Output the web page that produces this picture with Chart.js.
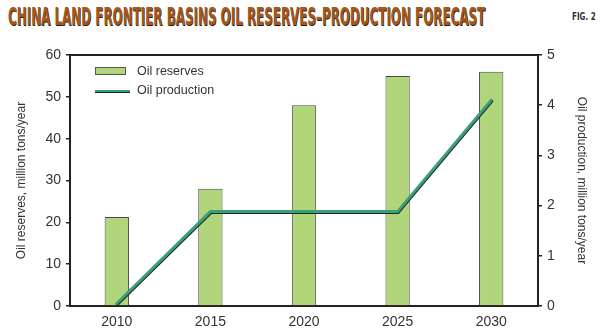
<!DOCTYPE html>
<html lang="en">
<head>
<meta charset="UTF-8">
<title>China land frontier basins oil reserves-production forecast</title>
<script src="https://cdn.jsdelivr.net/npm/chart.js"></script>
<style>
  body { margin: 0; background: #fff; }
  .wrap { position: relative; width: 600px; height: 330px; overflow: hidden; }
  #heading {
    position: absolute; left: 8px; top: 2px;
    font: bold 24px "DejaVu Sans Condensed", "DejaVu Sans", sans-serif;
    line-height: 30px; color: #a4581b; white-space: nowrap;
    transform-origin: 0 0;
    text-shadow: 1px 1px 0 #2b1a0c;
  }
  #fig {
    position: absolute; left: 572px; top: 11px; white-space: nowrap;
    font: bold 10px "DejaVu Sans Condensed", sans-serif; color: #333;
    transform-origin: 0 0; transform: scaleX(0.8);
  }
  canvas { position: absolute; left: 0; top: 0; }
</style>
</head>
<body>
<div class="wrap">
  <div id="heading">CHINA LAND FRONTIER BASINS OIL RESERVES–PRODUCTION FORECAST</div>
  <div id="fig">FIG. 2</div>
  <canvas id="forecast" width="600" height="330"></canvas>
</div>
<script>
// forecast years and values (reserves: million tons/year, production: million tons/year)
const years = ['2010', '2015', '2020', '2025', '2030'];
const reserves = [21.3, 28, 48, 55, 56];
const production = [0.05, 1.88, 1.88, 1.88, 4.1];
const reserveTicks = [0, 10, 20, 30, 40, 50, 60];
const productionTicks = [0, 1, 2, 3, 4, 5];

const barGreen = '#b1d57a';
const lineGreen = '#3b9f79';
const ink = '#222';

// squeeze the heading to its fixed width
const heading = document.getElementById('heading');
heading.style.transform = 'scaleX(' + (477 / heading.offsetWidth) + ')';

// dark drop shadow under the production line, frame top edge and inline legend
const extras = {
  id: 'extras',
  beforeDatasetDraw(chart, args) {
    if (args.meta.type !== 'line') return;
    const ctx = chart.ctx;
    ctx.save();
    ctx.shadowColor = '#1c2a22';
    ctx.shadowOffsetX = 0.5;
    ctx.shadowOffsetY = 1;
    ctx.shadowBlur = 0;
  },
  afterDatasetDraw(chart, args) {
    if (args.meta.type !== 'line') return;
    chart.ctx.restore();
  },
  afterDraw(chart) {
    const ctx = chart.ctx;
    const a = chart.chartArea;
    ctx.save();
    ctx.strokeStyle = ink;
    ctx.lineWidth = 2;
    ctx.beginPath();
    ctx.moveTo(a.left, a.top);
    ctx.lineTo(a.right, a.top);
    ctx.stroke();

    const lx = a.left + 25;
    ctx.font = '12.5px "Liberation Sans", Arial, sans-serif';
    ctx.textBaseline = 'middle';

    ctx.fillStyle = barGreen;
    ctx.fillRect(lx, a.top + 12, 31, 8);
    ctx.strokeStyle = '#555';
    ctx.lineWidth = 1;
    ctx.strokeRect(lx + 0.5, a.top + 12.5, 30, 7);
    ctx.fillStyle = '#333';
    ctx.fillText('Oil reserves', lx + 42, a.top + 17);

    ctx.strokeStyle = '#1c2a22';
    ctx.lineWidth = 2;
    ctx.beginPath();
    ctx.moveTo(lx, a.top + 37);
    ctx.lineTo(lx + 35, a.top + 37);
    ctx.stroke();
    ctx.strokeStyle = lineGreen;
    ctx.beginPath();
    ctx.moveTo(lx, a.top + 36);
    ctx.lineTo(lx + 35, a.top + 36);
    ctx.stroke();
    ctx.fillStyle = '#333';
    ctx.fillText('Oil production', lx + 42, a.top + 36);
    ctx.restore();
  }
};

const tickFont = { family: '"Liberation Sans", Arial, sans-serif', size: 14 };
const titleFont = { family: '"Liberation Sans", Arial, sans-serif', size: 12 };

new Chart(document.getElementById('forecast'), {
  data: {
    labels: years,
    datasets: [
      {
        type: 'line',
        label: 'Oil production',
        data: production,
        yAxisID: 'y1',
        borderColor: lineGreen,
        borderWidth: 3,
        borderCapStyle: 'round',
        pointRadius: 0,
        tension: 0,
        order: 0
      },
      {
        type: 'bar',
        label: 'Oil reserves',
        data: reserves,
        yAxisID: 'y',
        backgroundColor: barGreen,
        borderColor: '#4a4a4a',
        borderWidth: 1,
        barPercentage: 1,
        categoryPercentage: 0.26,
        order: 1
      }
    ]
  },
  options: {
    responsive: false,
    animation: false,
    layout: { padding: { top: 55, left: 0, right: 0, bottom: 0 } },
    plugins: {
      legend: { display: false },
      tooltip: { enabled: false }
    },
    scales: {
      x: {
        offset: true,
        grid: { display: false },
        border: { display: true, color: ink, width: 2 },
        ticks: { color: '#333', font: tickFont, padding: 0 },
        afterFit(scale) { scale.height = 24; }
      },
      y: {
        position: 'left',
        min: 0,
        max: 60,
        afterBuildTicks(scale) { scale.ticks = reserveTicks.map(v => ({ value: v })); },
        grid: { drawOnChartArea: false, color: ink, tickLength: 4, lineWidth: 1.5 },
        border: { display: true, color: ink, width: 2 },
        ticks: { color: '#333', font: tickFont, padding: 5 },
        title: {
          display: true,
          text: 'Oil reserves, million tons/year',
          color: '#333',
          font: titleFont,
          padding: { top: 14, bottom: 0 }
        },
        afterFit(scale) { scale.width = 70; }
      },
      y1: {
        position: 'right',
        min: 0,
        max: 5,
        afterBuildTicks(scale) { scale.ticks = productionTicks.map(v => ({ value: v })); },
        grid: { drawOnChartArea: false, color: ink, tickLength: 4, lineWidth: 1.5 },
        border: { display: true, color: ink, width: 2 },
        ticks: { color: '#333', font: tickFont, padding: 5 },
        title: {
          display: true,
          text: 'Oil production, million tons/year',
          color: '#333',
          font: titleFont,
          padding: { top: 11, bottom: 0 }
        },
        afterFit(scale) { scale.width = 62; }
      }
    }
  },
  plugins: [extras]
});
</script>
</body>
</html>
